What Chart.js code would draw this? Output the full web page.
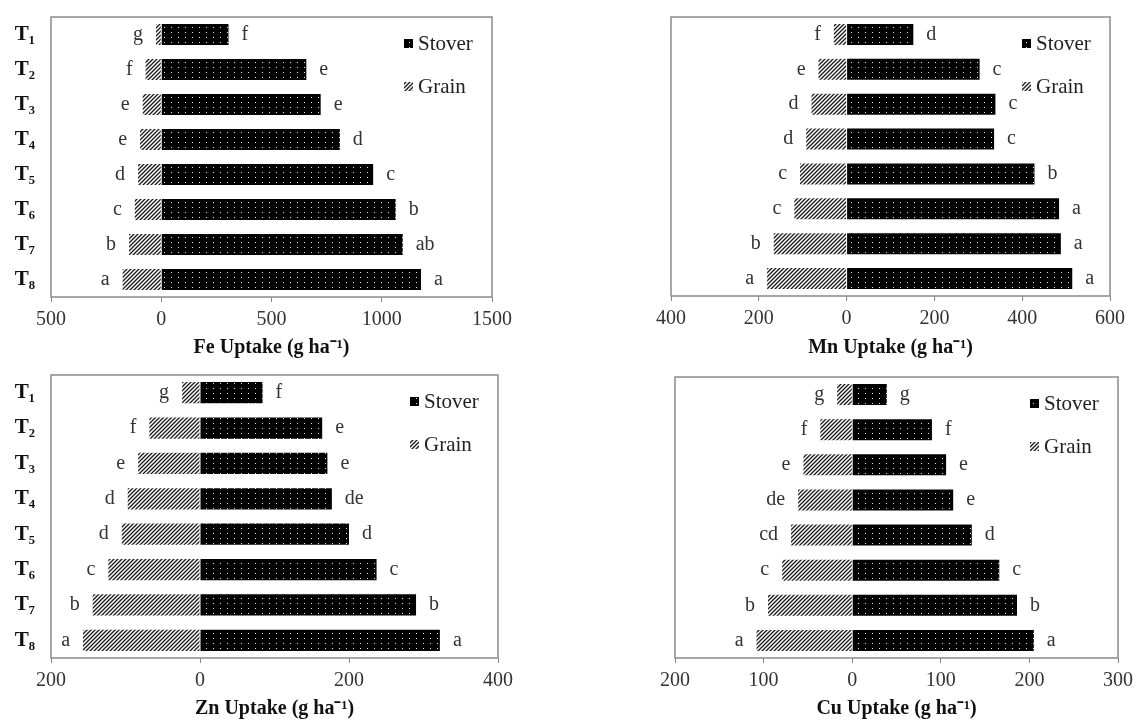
<!DOCTYPE html>
<html>
<head>
<meta charset="utf-8">
<script src="https://cdn.jsdelivr.net/npm/chart.js@4.4.1/dist/chart.umd.min.js"></script>
<style>
  body { margin: 0; background: #fff; }
  canvas { position: absolute; }
</style>
</head>
<body>
<canvas id="fe" width="568" height="361" style="left:0;top:0"></canvas>
<canvas id="mn" width="569" height="361" style="left:568px;top:0"></canvas>
<canvas id="zn" width="568" height="361" style="left:0;top:361px"></canvas>
<canvas id="cu" width="569" height="361" style="left:568px;top:361px"></canvas>
<script>
// Data
const treatments = ['T₁', 'T₂', 'T₃', 'T₄', 'T₅', 'T₆', 'T₇', 'T₈'];

const feStover = [305, 658, 723, 810, 961, 1063, 1095, 1178];
const feGrain = [24, 71, 84, 96, 105, 120, 146, 175];
const feStoverLetters = ['f', 'e', 'e', 'd', 'c', 'b', 'ab', 'a'];
const feGrainLetters = ['g', 'f', 'e', 'e', 'd', 'c', 'b', 'a'];

const mnStover = [152, 303, 339, 336, 428, 484, 488, 514];
const mnGrain = [29, 64, 80, 92, 106, 119, 166, 181];
const mnStoverLetters = ['d', 'c', 'c', 'c', 'b', 'a', 'a', 'a'];
const mnGrainLetters = ['f', 'e', 'd', 'd', 'c', 'c', 'b', 'a'];

const znStover = [84, 164, 171, 177, 200, 237, 290, 322];
const znGrain = [24, 68, 83, 97, 105, 123, 144, 157];
const znStoverLetters = ['f', 'e', 'e', 'de', 'd', 'c', 'b', 'a'];
const znGrainLetters = ['g', 'f', 'e', 'd', 'd', 'c', 'b', 'a'];

const cuStover = [39, 90, 106, 114, 135, 166, 186, 205];
const cuGrain = [17, 36, 55, 61, 69, 79, 95, 108];
const cuStoverLetters = ['g', 'f', 'e', 'e', 'd', 'c', 'b', 'a'];
const cuGrainLetters = ['g', 'f', 'e', 'de', 'cd', 'c', 'b', 'a'];

const SERIF = '"Liberation Serif", "Times New Roman", serif';
Chart.defaults.font.family = SERIF;

// Fill patterns
function dotPattern() {
  const c = document.createElement('canvas');
  c.width = 7; c.height = 5;
  const g = c.getContext('2d');
  g.fillStyle = '#000';
  g.fillRect(0, 0, 7, 5);
  g.fillStyle = '#e8e8e8';
  g.fillRect(3, 2, 1, 1);
  return g.createPattern(c, 'repeat');
}

function hatchPattern() {
  const c = document.createElement('canvas');
  c.width = 4; c.height = 4;
  const g = c.getContext('2d');
  g.fillStyle = '#fff';
  g.fillRect(0, 0, 4, 4);
  g.strokeStyle = '#1a1a1a';
  g.lineWidth = 1.3;
  g.beginPath();
  g.moveTo(-1, 5); g.lineTo(5, -1);
  g.moveTo(-1, 1); g.lineTo(1, -1);
  g.moveTo(3, 5); g.lineTo(5, 3);
  g.stroke();
  return g.createPattern(c, 'repeat');
}

const stoverFill = dotPattern();
const grainFill = hatchPattern();

// Box, letters and legend
const panelDecor = {
  id: 'panelDecor',
  afterDraw(chart) {
    const ctx = chart.ctx;
    const a = chart.chartArea;
    ctx.save();

    ctx.font = '20px ' + SERIF;
    ctx.fillStyle = '#333';
    ctx.textBaseline = 'middle';
    chart.data.datasets.forEach((ds, i) => {
      chart.getDatasetMeta(i).data.forEach((bar, j) => {
        const left = ds.data[j] < 0;
        ctx.textAlign = left ? 'right' : 'left';
        ctx.fillText(ds.letters[j], bar.x + (left ? -13 : 13), bar.y);
      });
    });

    ctx.strokeStyle = '#8a8a8a';
    ctx.lineWidth = 1.5;
    ctx.strokeRect(a.left, a.top, a.right - a.left, a.bottom - a.top);

    ctx.font = '21px ' + SERIF;
    ctx.textAlign = 'left';
    chart.data.datasets.forEach((ds, i) => {
      const y = a.top + 27 + i * 43;
      const x = a.right - 74;
      ctx.fillStyle = ds.backgroundColor;
      ctx.fillRect(x - 14, y - 5, 9, 9);
      ctx.fillStyle = '#222';
      ctx.fillText(ds.label, x, y);
    });
    ctx.restore();
  }
};

function drawPanel(id, cfg) {
  const canvas = document.getElementById(id);
  return new Chart(canvas, {
    type: 'bar',
    data: {
      labels: treatments,
      datasets: [
        { label: 'Stover', data: cfg.stover, letters: cfg.stoverLetters,
          backgroundColor: stoverFill, borderWidth: 0 },
        { label: 'Grain', data: cfg.grain.map(v => -v), letters: cfg.grainLetters,
          backgroundColor: grainFill, borderWidth: 0 }
      ]
    },
    options: {
      indexAxis: 'y',
      responsive: false,
      animation: false,
      layout: { padding: { left: 0, top: cfg.top, right: canvas.width - cfg.right, bottom: 0 } },
      datasets: { bar: { categoryPercentage: 0.6, barPercentage: 1 } },
      plugins: { legend: { display: false }, tooltip: { enabled: false } },
      scales: {
        x: {
          stacked: true,
          min: cfg.min,
          max: cfg.max,
          border: { display: false },
          grid: { drawOnChartArea: false, drawTicks: true, tickLength: 5, color: '#888' },
          ticks: {
            stepSize: cfg.step,
            padding: 6,
            color: '#333',
            font: { size: 20 },
            callback: v => Math.abs(v)
          },
          title: {
            display: true,
            text: cfg.title,
            color: '#111',
            font: { size: 20, weight: 'bold', lineHeight: 1 },
            padding: { top: 0, bottom: 3 }
          },
          afterFit(s) {
            s.height = canvas.height - cfg.bottom;
            s.paddingLeft = 0;
            s.paddingRight = 0;
          }
        },
        y: {
          stacked: true,
          border: { display: false },
          grid: { display: false, drawTicks: false },
          ticks: {
            display: cfg.showLabels,
            padding: 16,
            color: '#111',
            font: { size: 21, weight: 'bold' }
          },
          afterFit(s) {
            s.width = cfg.left;
            s.paddingTop = 0;
            s.paddingBottom = 0;
          }
        }
      }
    },
    plugins: [panelDecor]
  });
}

drawPanel('fe', {
  stover: feStover, grain: feGrain, stoverLetters: feStoverLetters, grainLetters: feGrainLetters,
  min: -500, max: 1500, step: 500, title: 'Fe Uptake (g ha⁻¹)', showLabels: true,
  left: 51, right: 492, top: 17, bottom: 297
});
drawPanel('mn', {
  stover: mnStover, grain: mnGrain, stoverLetters: mnStoverLetters, grainLetters: mnGrainLetters,
  min: -400, max: 600, step: 200, title: 'Mn Uptake (g ha⁻¹)', showLabels: false,
  left: 103, right: 542, top: 17, bottom: 296
});
drawPanel('zn', {
  stover: znStover, grain: znGrain, stoverLetters: znStoverLetters, grainLetters: znGrainLetters,
  min: -200, max: 400, step: 200, title: 'Zn Uptake (g ha⁻¹)', showLabels: true,
  left: 51, right: 498, top: 14, bottom: 297
});
drawPanel('cu', {
  stover: cuStover, grain: cuGrain, stoverLetters: cuStoverLetters, grainLetters: cuGrainLetters,
  min: -200, max: 300, step: 100, title: 'Cu Uptake (g ha⁻¹)', showLabels: false,
  left: 107, right: 550, top: 16, bottom: 297
});
</script>
</body>
</html>
